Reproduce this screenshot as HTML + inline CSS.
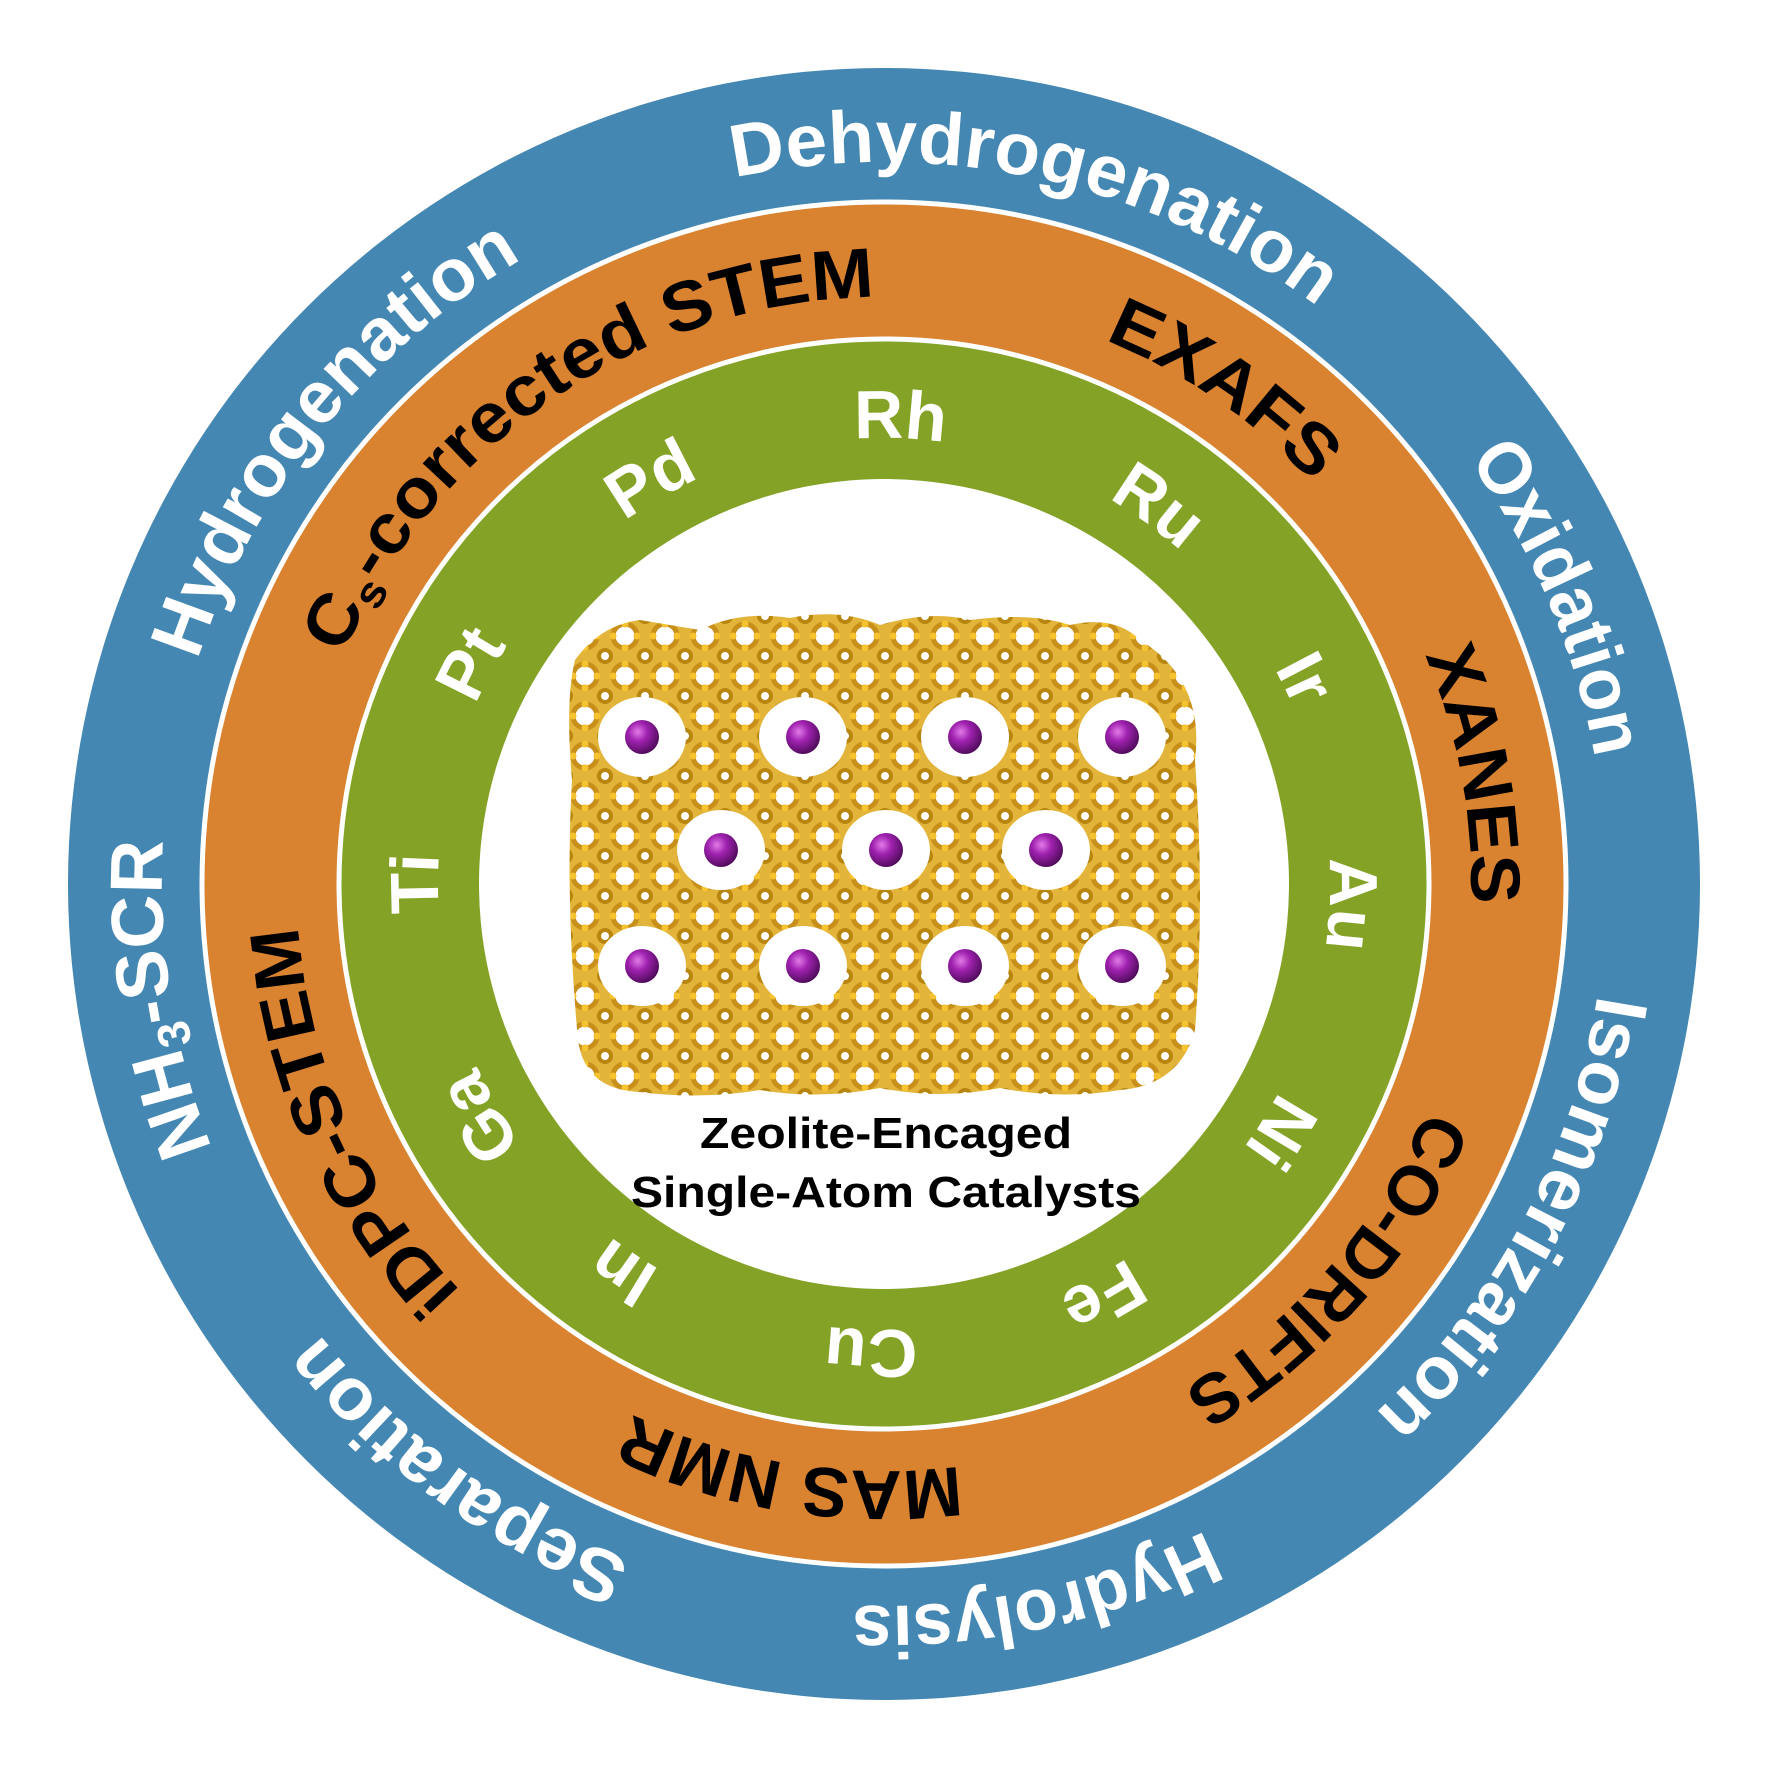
<!DOCTYPE html>
<html><head><meta charset="utf-8"><style>html,body{margin:0;padding:0;background:#fff}svg{display:block}</style></head>
<body>
<svg width="1772" height="1772" viewBox="0 0 1772 1772" xmlns="http://www.w3.org/2000/svg">
<defs>
<path id="bB" d="M884,1606 A722,722 0 1 1 884,162 A722,722 0 1 1 884,1606"/>
<path id="bT" d="M884,162 A722,722 0 1 1 884,1606 A722,722 0 1 1 884,162"/>
<path id="oB" d="M884,1471 A587,587 0 1 1 884,297 A587,587 0 1 1 884,1471"/>
<path id="oT" d="M884,297 A587,587 0 1 1 884,1471 A587,587 0 1 1 884,297"/>
<path id="gB" d="M884,1330 A446,446 0 1 1 884,438 A446,446 0 1 1 884,1330"/>
<path id="gT" d="M884,438 A446,446 0 1 1 884,1330 A446,446 0 1 1 884,438"/>
<pattern id="lat" x="565" y="616" width="40" height="40" patternUnits="userSpaceOnUse">
<rect width="40" height="40" fill="#e2b43a"/>
<circle cx="20" cy="20" r="12" fill="#fff" stroke="#c8901a" stroke-width="5"/>
<circle cx="0" cy="0" r="6" fill="#fff" stroke="#b8860f" stroke-width="4"/>
<circle cx="40" cy="0" r="6" fill="#fff" stroke="#b8860f" stroke-width="4"/>
<circle cx="0" cy="40" r="6" fill="#fff" stroke="#b8860f" stroke-width="4"/>
<circle cx="40" cy="40" r="6" fill="#fff" stroke="#b8860f" stroke-width="4"/>
<circle cx="20" cy="8" r="3.5" fill="#f5c230"/><circle cx="8" cy="20" r="3.5" fill="#f5c230"/>
<circle cx="32" cy="20" r="3.5" fill="#f5c230"/><circle cx="20" cy="32" r="3.5" fill="#f5c230"/>
</pattern>
<radialGradient id="atom" cx="0.38" cy="0.35" r="0.7">
<stop offset="0" stop-color="#e27be8"/><stop offset="0.4" stop-color="#a022b0"/><stop offset="1" stop-color="#4a0a55"/>
</radialGradient>
</defs>
<rect width="1772" height="1772" fill="#fff"/>
<circle cx="884" cy="884" r="816" fill="#4487b2"/>
<circle cx="884" cy="884" r="682" fill="#d9822f" stroke="#fff" stroke-width="5"/>
<circle cx="884" cy="884" r="545" fill="#84a225" stroke="#fff" stroke-width="5"/>
<circle cx="884" cy="884" r="405" fill="#fff"/>

<path d="M575,660 Q600,625 640,620 L700,630 Q740,610 790,618 Q840,608 880,625 Q930,610 970,620 Q1030,612 1070,625 Q1115,615 1140,640 Q1205,680 1195,760 Q1205,900 1195,1030 Q1180,1085 1120,1090 Q1060,1100 1000,1088 Q940,1100 880,1088 Q820,1100 760,1090 Q700,1100 640,1092 Q585,1090 578,1040 Q565,900 572,780 Q565,700 575,660 Z" fill="url(#lat)"/>
<g fill="#fff">
<ellipse cx="642" cy="737" rx="44" ry="40"/><ellipse cx="803" cy="737" rx="44" ry="40"/><ellipse cx="965" cy="737" rx="44" ry="40"/><ellipse cx="1122" cy="737" rx="44" ry="40"/>
<ellipse cx="721" cy="850" rx="44" ry="40"/><ellipse cx="886" cy="850" rx="44" ry="40"/><ellipse cx="1046" cy="850" rx="44" ry="40"/>
<ellipse cx="642" cy="966" rx="44" ry="40"/><ellipse cx="803" cy="966" rx="44" ry="40"/><ellipse cx="965" cy="966" rx="44" ry="40"/><ellipse cx="1122" cy="966" rx="44" ry="40"/>
</g>
<g fill="url(#atom)">
<circle cx="642" cy="737" r="17"/><circle cx="803" cy="737" r="17"/><circle cx="965" cy="737" r="17"/><circle cx="1122" cy="737" r="17"/>
<circle cx="721" cy="850" r="17"/><circle cx="886" cy="850" r="17"/><circle cx="1046" cy="850" r="17"/>
<circle cx="642" cy="966" r="17"/><circle cx="803" cy="966" r="17"/><circle cx="965" cy="966" r="17"/><circle cx="1122" cy="966" r="17"/>
</g>
<g font-family="Liberation Sans, sans-serif" font-weight="bold" font-size="44" text-anchor="middle" fill="#000">
<text x="886" y="1148" textLength="372" lengthAdjust="spacingAndGlyphs">Zeolite-Encaged</text>
<text x="886" y="1207" textLength="510" lengthAdjust="spacingAndGlyphs">Single-Atom Catalysts</text>
</g>

<g font-family="Liberation Sans, sans-serif" font-weight="bold" font-size="74" fill="#fff" text-anchor="middle">
<text><textPath href="#bB" startOffset="53.47%" textLength="616" lengthAdjust="spacingAndGlyphs">Dehydrogenation</textPath></text>
<text><textPath href="#bB" startOffset="35.83%" textLength="528" lengthAdjust="spacingAndGlyphs">Hydrogenation</textPath></text>
<text><textPath href="#bB" startOffset="68.61%" textLength="327" lengthAdjust="spacingAndGlyphs">Oxidation</textPath></text>
<text><textPath href="#bT" startOffset="32.78%" textLength="484" lengthAdjust="spacingAndGlyphs">Isomerization</textPath></text>
<text><textPath href="#bT" startOffset="46.67%" textLength="365" lengthAdjust="spacingAndGlyphs">Hydrolysis</textPath></text>
<text><textPath href="#bT" startOffset="60%" textLength="390" lengthAdjust="spacingAndGlyphs">Separation</textPath></text>
<text><textPath href="#bT" startOffset="72.5%" textLength="314" lengthAdjust="spacingAndGlyphs">NH<tspan font-size="46" dy="12">3</tspan><tspan dy="-12">-SCR</tspan></textPath></text>
</g>

<g font-family="Liberation Sans, sans-serif" font-weight="bold" font-size="70" fill="#000" text-anchor="middle">
<text><textPath href="#oB" startOffset="40.56%" textLength="678" lengthAdjust="spacingAndGlyphs">C<tspan font-size="44" dy="12">s</tspan><tspan dy="-12">-corrected STEM</tspan></textPath></text>
<text><textPath href="#oB" startOffset="59.58%" textLength="255" lengthAdjust="spacingAndGlyphs">EXAFS</textPath></text>
<text><textPath href="#oB" startOffset="72.08%" textLength="255" lengthAdjust="spacingAndGlyphs">XANES</textPath></text>
<text><textPath href="#oT" startOffset="36.39%" textLength="378" lengthAdjust="spacingAndGlyphs">CO-DRIFTS</textPath></text>
<text><textPath href="#oT" startOffset="52.5%" textLength="337" lengthAdjust="spacingAndGlyphs">MAS NMR</textPath></text>
<text><textPath href="#oT" startOffset="68.33%" textLength="408" lengthAdjust="spacingAndGlyphs">iDPC-STEM</textPath></text>
</g>

<g font-family="Liberation Sans, sans-serif" font-weight="bold" font-size="68" fill="#fff" text-anchor="middle">
<text><textPath href="#gB" startOffset="50.56%">Rh</textPath></text>
<text><textPath href="#gB" startOffset="60%">Ru</textPath></text>
<text><textPath href="#gB" startOffset="67.78%">Ir</textPath></text>
<text><textPath href="#gT" startOffset="25.69%">Au</textPath></text>
<text><textPath href="#gT" startOffset="33.89%">Ni</textPath></text>
<text><textPath href="#gT" startOffset="42.22%">Fe</textPath></text>
<text><textPath href="#gT" startOffset="50.44%">Cu</textPath></text>
<text><textPath href="#gT" startOffset="59.44%">In</textPath></text>
<text><textPath href="#gT" startOffset="66.67%">Ga</textPath></text>
<text><textPath href="#gT" startOffset="75%">Ti</textPath></text>
<text><textPath href="#gB" startOffset="32.78%">Pt</textPath></text>
<text><textPath href="#gB" startOffset="41.67%">Pd</textPath></text>
</g>
</svg>
</body></html>
